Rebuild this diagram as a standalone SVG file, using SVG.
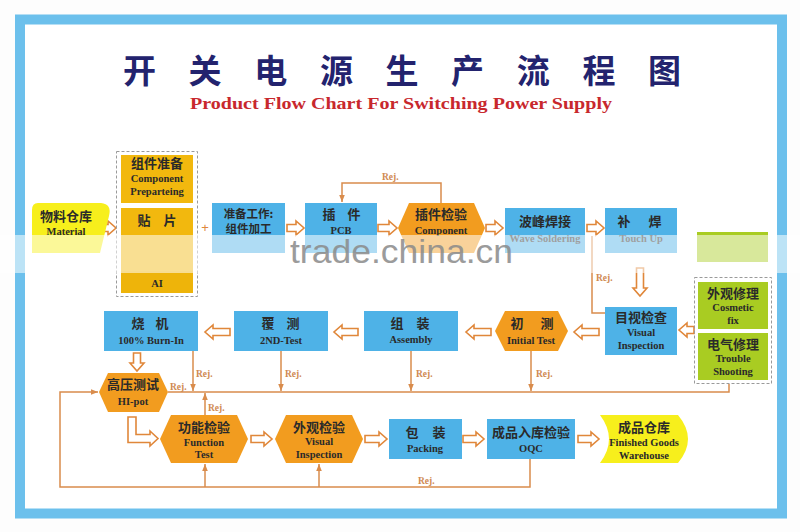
<svg xmlns="http://www.w3.org/2000/svg" width="800" height="532" viewBox="0 0 800 532">
<defs>
<style>
.blue{fill:#4eb2e7}
.orng{fill:#f29c1f}
.gold{fill:#f2b80e}
.yel{fill:#f7ef1c}
.grn{fill:#a9cc22}
.dash{fill:none;stroke:#9a9a9a;stroke-width:1;stroke-dasharray:3 2}
.cn{font-family:'Noto Sans CJK SC','Noto Sans CJK JP',sans-serif;font-weight:bold;font-size:13px;fill:#2a2a2a;text-anchor:middle}
.en{font-family:'Liberation Serif',serif;font-weight:bold;font-size:10.5px;fill:#2a2a2a;text-anchor:middle}
.rej{font-family:'Liberation Serif',serif;font-weight:bold;font-size:9.5px;fill:#cf8a52}
.ha{fill:#fff;stroke:#e0873a;stroke-width:1.6;stroke-linejoin:miter}
.ln{fill:none;stroke:#d98c4c;stroke-width:1.5}
</style>
<marker id="ah" viewBox="0 0 10 10" refX="10" refY="5" markerWidth="7" markerHeight="7" orient="auto" markerUnits="userSpaceOnUse"><path d="M0,1 L10,5 L0,9 Z" fill="#d98c4c"/></marker>
</defs>
<rect x="0" y="0" width="800" height="532" fill="#fdfdfd"/>
<rect x="20" y="19.5" width="762" height="494" fill="#ffffff" stroke="#6cc0ec" stroke-width="10"/>

<g id="title">
<text x="139.5 205.1 270.8 336.4 402 467.6 533.2 598.9 664.5" y="83" style="font-family:'Noto Sans CJK SC',sans-serif;font-weight:bold;font-size:33px;fill:#23236e;text-anchor:middle">开关电源生产流程图</text>
<text x="190" y="109" textLength="422" lengthAdjust="spacingAndGlyphs" style="font-family:'Liberation Serif',serif;font-weight:bold;font-size:17px;fill:#c8282d">Product Flow Chart For Switching Power Supply</text>
</g>

<g id="connectors">
<path class="ln" d="M441,203 V183 H342 V202" marker-end="url(#ah)"/>
<path class="ln" d="M592,236 V313 H605"/>
<path class="ln" d="M530,459 V487 H60 V392 H98" marker-end="url(#ah)"/>
<path class="ln" d="M729,384 V392 H168"/>
<path class="ln" d="M193,351 V391" marker-end="url(#ah)"/>
<path class="ln" d="M281,351 V391" marker-end="url(#ah)"/>
<path class="ln" d="M411,351 V391" marker-end="url(#ah)"/>
<path class="ln" d="M531,351 V391" marker-end="url(#ah)"/>
<path class="ln" d="M205,415 V393" marker-end="url(#ah)"/>
<path class="ln" d="M205,487 V464" marker-end="url(#ah)"/>
<path class="ln" d="M319,487 V464" marker-end="url(#ah)"/>
<text class="rej" x="382" y="180">Rej.</text>
<text class="rej" x="596" y="281">Rej.</text>
<text class="rej" x="196" y="377">Rej.</text>
<text class="rej" x="285" y="377">Rej.</text>
<text class="rej" x="416" y="377">Rej.</text>
<text class="rej" x="536" y="377">Rej.</text>
<text class="rej" x="170" y="390">Rej.</text>
<text class="rej" x="208" y="411">Rej.</text>
<text class="rej" x="418" y="484">Rej.</text>
<path class="ha" d="M100,224.5 H108 V221 L116,228 L108,235 V231.5 H100 Z"/>
<path class="ha" d="M287,224.5 H296 V221 L304,228 L296,235 V231.5 H287 Z"/>
<path class="ha" d="M378,224.5 H389 V221 L397,228 L389,235 V231.5 H378 Z"/>
<path class="ha" d="M486,224.5 H495 V221 L503,228 L495,235 V231.5 H486 Z"/>
<path class="ha" d="M587,224.5 H596 V221 L604,228 L596,235 V231.5 H587 Z"/>
<path class="ha" d="M599,328.5 H582 V325 L574,332 L582,339 V335.5 H599 Z"/>
<path class="ha" d="M491,328.5 H474 V325 L466,332 L474,339 V335.5 H491 Z"/>
<path class="ha" d="M358,328.5 H342 V325 L334,332 L342,339 V335.5 H358 Z"/>
<path class="ha" d="M230,328.5 H213 V325 L205,332 L213,339 V335.5 H230 Z"/>
<path class="ha" d="M694,326.5 H687 V323 L679,330 L687,337 V333.5 H694 Z"/>
<path class="ha" d="M636.5,268 V288 H633 L640,296 L647,288 H643.5 V268 Z"/>
<path class="ha" d="M133.5,353 V363 H130 L137,371 L144,363 H140.5 V353 Z"/>
<path class="ha" d="M128,417 H136 V434.5 H150 V431 L158,438.5 L150,446 V442.5 H128 Z"/>
<path class="ha" d="M251,435.5 H264 V432 L272,439 L264,446 V442.5 H251 Z"/>
<path class="ha" d="M365,435.5 H379 V432 L387,439 L379,446 V442.5 H365 Z"/>
<path class="ha" d="M463,435.5 H476 V432 L484,439 L476,446 V442.5 H463 Z"/>
<path class="ha" d="M578,435.5 H591 V432 L599,439 L591,446 V442.5 H578 Z"/>
</g>
<text x="205" y="232" style="font-family:'Liberation Sans',sans-serif;font-size:13px;fill:#e0873a;text-anchor:middle">+</text>

<g id="material">
<path class="yel" d="M38,203 H101 Q112,204 109,216 L100,253 H32 V210 Q32,203 38,203 Z"/>
<text class="cn" x="66" y="221">物料仓库</text>
<text class="en" x="66" y="235">Material</text>
</g>

<g id="smt-group">
<rect class="dash" x="116.5" y="151.5" width="81" height="145"/>
<g id="comp-prep">
<rect class="gold" x="121" y="155" width="72" height="48"/>
<text class="cn" x="157" y="168">组件准备</text>
<text class="en" x="157" y="182">Component</text>
<text class="en" x="157" y="195">Preparteing</text>
</g>
<g id="smt">
<rect class="gold" x="121" y="208" width="72" height="57"/>
<text class="cn" x="144 170" y="225">贴片</text>
</g>
<g id="ai">
<rect class="gold" x="121" y="265" width="72" height="28"/>
<rect x="121" y="271" width="72" height="22" fill="#eeb40a"/>
<text class="en" x="157" y="287">AI</text>
</g>
</g>

<g id="prep-work">
<rect class="blue" x="212" y="203" width="73" height="50"/>
<text class="cn" x="248.5" y="218" style="font-size:11.5px">准备工作:</text>
<text class="cn" x="248.5" y="233" style="font-size:11.5px">组件加工</text>
</g>

<g id="insert-pcb">
<rect class="blue" x="305" y="203" width="72" height="50"/>
<text class="cn" x="329 354" y="219">插件</text>
<text class="en" x="341" y="234">PCB</text>
</g>

<g id="insert-inspect">
<path class="orng" d="M398,228 L409,203 H474 L485,228 L474,253 H409 Z"/>
<text class="cn" x="441" y="219">插件检验</text>
<text class="en" x="441" y="234">Component</text>
</g>

<g id="wave-solder">
<rect class="blue" x="505" y="208" width="80" height="45"/>
<text class="cn" x="545" y="226">波峰焊接</text>
<text class="en" x="545" y="242">Wave Soldering</text>
</g>

<g id="touch-up">
<rect class="blue" x="605" y="208" width="72" height="45"/>
<text class="cn" x="624 655" y="226">补焊</text>
<text class="en" x="641" y="242">Touch Up</text>
</g>

<rect x="697" y="232" width="71" height="30" class="grn"/>

<g id="visual-inspection-1">
<rect class="blue" x="605" y="307" width="72" height="48"/>
<text class="cn" x="641" y="322">目视检查</text>
<text class="en" x="641" y="336">Visual</text>
<text class="en" x="641" y="349">Inspection</text>
</g>

<g id="repair-group">
<rect class="dash" x="694.5" y="277.5" width="77" height="106"/>
<g id="cosmetic-fix">
<rect class="grn" x="698" y="282" width="70" height="47"/>
<text class="cn" x="733" y="298">外观修理</text>
<text class="en" x="733" y="311">Cosmetic</text>
<text class="en" x="733" y="324">fix</text>
</g>
<g id="trouble-shooting">
<rect class="grn" x="698" y="333" width="70" height="47"/>
<text class="cn" x="733" y="349">电气修理</text>
<text class="en" x="733" y="362">Trouble</text>
<text class="en" x="733" y="375">Shooting</text>
</g>
</g>

<g id="initial-test">
<path class="orng" d="M495,331 L505,311 H558 L568,331 L558,351 H505 Z"/>
<text class="cn" x="517 547" y="328">初测</text>
<text class="en" x="531" y="344">Initial Test</text>
</g>

<g id="assembly">
<rect class="blue" x="364" y="311" width="94" height="40"/>
<text class="cn" x="397 423" y="328">组装</text>
<text class="en" x="411" y="343">Assembly</text>
</g>

<g id="second-test">
<rect class="blue" x="234" y="311" width="94" height="40"/>
<text class="cn" x="268 293" y="328">覆测</text>
<text class="en" x="281" y="344">2ND-Test</text>
</g>

<g id="burn-in">
<rect class="blue" x="104" y="311" width="94" height="40"/>
<text class="cn" x="138 162" y="328">烧机</text>
<text class="en" x="151" y="344">100% Burn-In</text>
</g>

<g id="hi-pot">
<path class="orng" d="M99,392 L108,373 H159 L168,392 L159,412 H108 Z"/>
<text class="cn" x="133" y="389">高压测试</text>
<text class="en" x="133" y="405">HI-pot</text>
</g>

<g id="function-test">
<path class="orng" d="M160,439 L171,415 H237 L248,439 L237,463 H171 Z"/>
<text class="cn" x="204" y="432">功能检验</text>
<text class="en" x="204" y="446">Function</text>
<text class="en" x="204" y="458">Test</text>
</g>

<g id="visual-inspection-2">
<path class="orng" d="M275,439 L286,415 H352 L363,439 L352,463 H286 Z"/>
<text class="cn" x="319" y="432">外观检验</text>
<text class="en" x="319" y="445">Visual</text>
<text class="en" x="319" y="458">Inspection</text>
</g>

<g id="packing">
<rect class="blue" x="389" y="419" width="73" height="40"/>
<text class="cn" x="412 439" y="437">包装</text>
<text class="en" x="425" y="452">Packing</text>
</g>

<g id="oqc">
<rect class="blue" x="487" y="419" width="88" height="40"/>
<text class="cn" x="531" y="437">成品入库检验</text>
<text class="en" x="531" y="452">OQC</text>
</g>

<g id="warehouse">
<path class="yel" d="M600,415 H678 Q698,439 678,463 H600 Q618,439 600,415 Z"/>
<text class="cn" x="644" y="432">成品仓库</text>
<text class="en" x="644" y="446">Finished Goods</text>
<text class="en" x="644" y="459">Warehouse</text>
</g>

<g id="watermark">
<rect x="0" y="235" width="800" height="38" fill="#ffffff" opacity="0.55"/>
<text x="290" y="263" textLength="223" lengthAdjust="spacingAndGlyphs" style="font-family:'Liberation Sans',sans-serif;font-size:33px;fill:#8a8a8a;opacity:0.85">trade.china.cn</text>
</g>
</svg>
